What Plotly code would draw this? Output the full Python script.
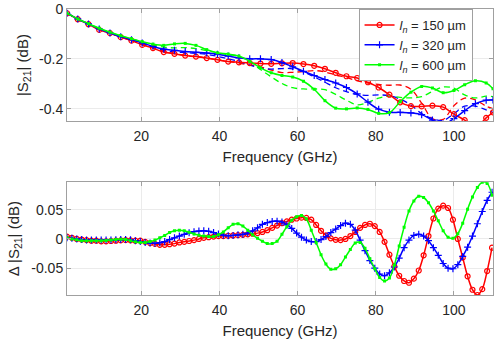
import numpy as np
import plotly.graph_objects as go
from plotly.subplots import make_subplots

# frequency sweep grids (GHz)
freq_top = np.append(np.arange(1, 109, 2.75), 110)
freq_bot = np.arange(1, 110, 1.25)

# |S21| (dB), measured (solid) and simulated (dashed)
s21_150 = [-0.017, -0.041, -0.061, -0.084, -0.097, -0.113, -0.127, -0.144, -0.157, -0.173,
           -0.180, -0.187, -0.191, -0.197, -0.204, -0.211, -0.214, -0.217, -0.219, -0.220,
           -0.218, -0.217, -0.221, -0.228, -0.240, -0.256, -0.270, -0.277, -0.294, -0.315,
           -0.344, -0.375, -0.390, -0.391, -0.388, -0.394, -0.422, -0.446, -0.475, -0.437, -0.415]
s21_150_sim = [-0.017, -0.041, -0.061, -0.083, -0.097, -0.112, -0.126, -0.142, -0.156, -0.170,
               -0.179, -0.186, -0.191, -0.197, -0.204, -0.211, -0.217, -0.225, -0.232, -0.245,
               -0.255, -0.254, -0.251, -0.247, -0.253, -0.265, -0.275, -0.288, -0.297, -0.303,
               -0.306, -0.305, -0.322, -0.378, -0.440, -0.443, -0.388, -0.358, -0.365, -0.390, -0.400]
s21_320 = [-0.017, -0.040, -0.060, -0.080, -0.096, -0.111, -0.123, -0.136, -0.150, -0.161,
           -0.166, -0.171, -0.174, -0.177, -0.182, -0.189, -0.196, -0.200, -0.200, -0.203,
           -0.215, -0.232, -0.250, -0.267, -0.283, -0.297, -0.315, -0.341, -0.374, -0.402,
           -0.414, -0.415, -0.417, -0.424, -0.446, -0.462, -0.440, -0.408, -0.380, -0.366, -0.365]
s21_320_sim = [-0.017, -0.040, -0.060, -0.080, -0.096, -0.111, -0.124, -0.138, -0.154, -0.166,
               -0.172, -0.175, -0.178, -0.182, -0.190, -0.200, -0.211, -0.225, -0.237, -0.241,
               -0.239, -0.240, -0.252, -0.272, -0.294, -0.316, -0.332, -0.343, -0.347, -0.345,
               -0.348, -0.362, -0.385, -0.420, -0.440, -0.447, -0.420, -0.390, -0.390, -0.405, -0.415]
s21_600 = [-0.017, -0.040, -0.059, -0.077, -0.093, -0.107, -0.119, -0.131, -0.141, -0.146,
           -0.140, -0.138, -0.146, -0.163, -0.176, -0.181, -0.189, -0.210, -0.236, -0.256,
           -0.267, -0.273, -0.290, -0.322, -0.368, -0.398, -0.401, -0.397, -0.403, -0.419,
           -0.416, -0.372, -0.334, -0.311, -0.317, -0.336, -0.327, -0.304, -0.288, -0.297, -0.320]
s21_600_sim = [-0.017, -0.040, -0.060, -0.078, -0.094, -0.108, -0.120, -0.132, -0.145, -0.153,
               -0.156, -0.155, -0.159, -0.167, -0.176, -0.183, -0.190, -0.210, -0.243, -0.272,
               -0.299, -0.316, -0.321, -0.321, -0.324, -0.343, -0.366, -0.385, -0.375, -0.358,
               -0.350, -0.355, -0.357, -0.352, -0.331, -0.313, -0.318, -0.345, -0.357, -0.350, -0.352]

# delta |S21| (dB)
d_150 = [0.004, 0.002, 0.000, -0.001, -0.002, -0.003, -0.003, -0.004, -0.004, -0.0035,
         -0.003, -0.0025, -0.002, -0.0025, -0.003, -0.003, -0.005, -0.007, -0.0085, -0.010,
         -0.010, -0.009, -0.008, -0.006, -0.005, -0.0035, -0.002, 0.000, 0.002, 0.003,
         0.004, 0.005, 0.005, 0.0055, 0.006, 0.0065, 0.007, 0.008, 0.009, 0.010,
         0.012, 0.015, 0.019, 0.023, 0.027, 0.030, 0.033, 0.035, 0.0365, 0.036,
         0.033, 0.024, 0.014, 0.006, 0.001, -0.0015, -0.002, 0.000, 0.005, 0.012,
         0.019, 0.024, 0.026, 0.022, 0.012, -0.005, -0.027, -0.047, -0.063, -0.072,
         -0.075, -0.068, -0.054, -0.028, 0.005, 0.035, 0.052, 0.057, 0.053, 0.033,
         0.000, -0.032, -0.064, -0.087, -0.096, -0.086, -0.055, -0.015]
d_320 = [0.002, 0.001, 0.000, -0.001, -0.002, -0.002, -0.002, -0.002, -0.002, -0.002,
         -0.0015, -0.001, -0.001, -0.0015, -0.003, -0.0045, -0.006, -0.007, -0.0075, -0.0065,
         -0.0045, -0.001, 0.002, 0.005, 0.008, 0.0105, 0.0125, 0.0135, 0.014, 0.013,
         0.011, 0.0085, 0.0065, 0.0055, 0.006, 0.007, 0.008, 0.010, 0.014, 0.019,
         0.025, 0.028, 0.030, 0.0305, 0.029, 0.024, 0.018, 0.010, 0.003, -0.002,
         -0.0045, -0.0045, -0.001, 0.004, 0.011, 0.017, 0.023, 0.027, 0.025, 0.015,
         -0.002, -0.020, -0.037, -0.050, -0.060, -0.063, -0.058, -0.048, -0.033, -0.015,
         -0.002, 0.006, 0.008, 0.005, -0.003, -0.015, -0.028, -0.042, -0.050, -0.051,
         -0.044, -0.030, -0.014, 0.005, 0.026, 0.047, 0.066, 0.080]
d_600 = [0.002, 0.000, -0.0015, -0.003, -0.003, -0.003, -0.003, -0.003, -0.0025, -0.002,
         -0.001, -0.0005, -0.001, -0.003, -0.005, -0.006, -0.006, -0.0045, -0.002, 0.002,
         0.006, 0.011, 0.014, 0.015, 0.014, 0.0115, 0.0085, 0.0065, 0.005, 0.004,
         0.004, 0.007, 0.012, 0.019, 0.025, 0.026, 0.022, 0.015, 0.007, 0.001,
         -0.004, -0.008, -0.008, -0.004, 0.008, 0.021, 0.032, 0.038, 0.040, 0.034,
         0.015, -0.006, -0.027, -0.043, -0.052, -0.051, -0.044, -0.031, -0.018, -0.007,
         -0.006, -0.016, -0.034, -0.051, -0.066, -0.072, -0.067, -0.045, -0.012, 0.020,
         0.048, 0.065, 0.073, 0.071, 0.062, 0.048, 0.031, 0.014, 0.003, 0.001,
         0.009, 0.027, 0.051, 0.072, 0.088, 0.097, 0.095, 0.075]

labels = ["<i>l</i><sub><i>n</i></sub> = 150 µm",
          "<i>l</i><sub><i>n</i></sub> = 320 µm",
          "<i>l</i><sub><i>n</i></sub> = 600 µm"]
colors = ["#ff0000", "#0000ff", "#00ff00"]
markers = [dict(symbol="circle-open", size=5, line=dict(width=1.2)),
           dict(symbol="cross-thin-open", size=5, line=dict(width=1.2)),
           dict(symbol="square", size=3)]

fig = make_subplots(rows=2, cols=1)

meas = [s21_150, s21_320, s21_600]
sim = [s21_150_sim, s21_320_sim, s21_600_sim]
delta = [d_150, d_320, d_600]

for i in range(3):
    fig.add_trace(go.Scatter(x=freq_top, y=sim[i], mode="lines", line_shape="spline",
                             line=dict(color=colors[i], width=1.3, dash="6px,4px"),
                             showlegend=False), row=1, col=1)
for i in range(3):
    fig.add_trace(go.Scatter(x=freq_top, y=meas[i], mode="lines+markers", line_shape="spline",
                             line=dict(color=colors[i], width=1.5),
                             marker=dict(color=colors[i], **markers[i]),
                             name=labels[i]), row=1, col=1)
for i in range(3):
    fig.add_trace(go.Scatter(x=freq_bot, y=delta[i], mode="lines+markers", line_shape="spline",
                             line=dict(color=colors[i], width=1.5),
                             marker=dict(color=colors[i], **markers[i]),
                             showlegend=False), row=2, col=1)

axis_style = dict(showline=True, linecolor="#a0a0a0", linewidth=1, mirror="ticks",
                  ticks="inside", ticklen=4, tickcolor="#a0a0a0",
                  showgrid=True, gridcolor="#ebebeb", zeroline=False,
                  tickfont=dict(size=14, color="#262626"), automargin=False)

fig.update_xaxes(axis_style, range=[1, 110], tickvals=[20, 40, 60, 80, 100], ticklabelstandoff=2,
                 title=dict(text="Frequency (GHz)", font=dict(size=15, color="#262626"), standoff=8))
fig.update_yaxes(axis_style)

fig.update_layout(
    template="none",
    width=500, height=343,
    margin=dict(l=67, r=7, t=9, b=48),
    font=dict(family="Liberation Sans, Arial, sans-serif", color="#262626"),
    plot_bgcolor="white", paper_bgcolor="white",
    xaxis=dict(domain=[0, 1]),
    xaxis2=dict(domain=[0, 1]),
    yaxis=dict(domain=[0.608, 1], range=[-0.45, 0], tickvals=[0, -0.2, -0.4],
               ticktext=["0", "-0.2", "-0.4"],
               title=dict(text="|S<sub>21</sub>| (dB)", font=dict(size=15), standoff=6)),
    yaxis2=dict(domain=[0, 0.394], range=[-0.096, 0.097], tickvals=[-0.05, 0, 0.05],
                ticktext=["-0.05", "0", "0.05"],
                title=dict(text="Δ |S<sub>21</sub>| (dB)", font=dict(size=15), standoff=8)),
    legend=dict(x=0.952, y=1, xanchor="right", yanchor="top", bgcolor="white",
                bordercolor="#a0a0a0", borderwidth=1, font=dict(size=13, color="#262626"),
                itemwidth=30, tracegroupgap=0),
)

# drop the browser's default 8px body margin so the figure sits at the page origin
fig.write_html("out.html", config={"displayModeBar": False},
               post_script="document.body.style.margin='0px';")
